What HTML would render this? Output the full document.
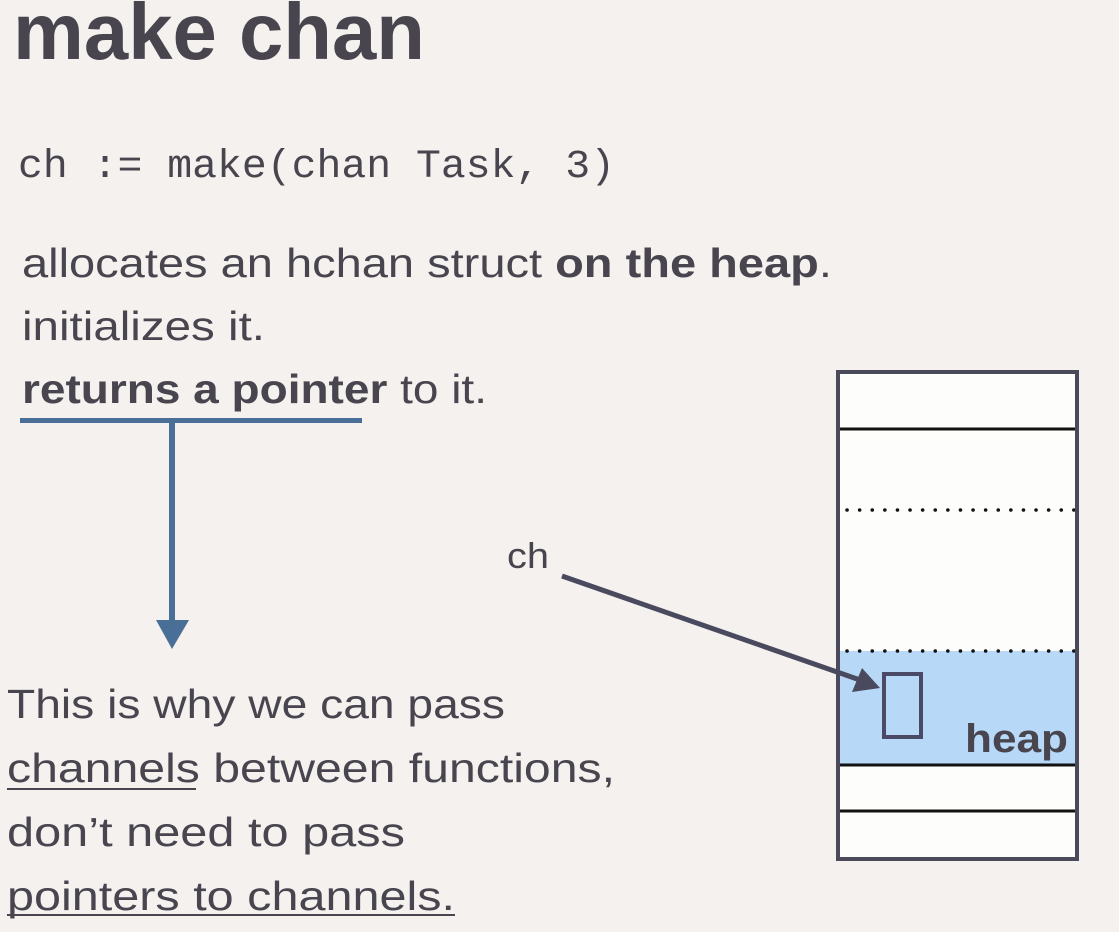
<!DOCTYPE html>
<html><head><style>html,body{margin:0;padding:0;background:#f4f1ef;}svg{display:block}</style></head>
<body>
<svg width="1119" height="932" viewBox="0 0 1119 932" xmlns="http://www.w3.org/2000/svg">
<rect width="1119" height="932" fill="#f4f1ef"/>
<g fill="#48454f" font-family="Liberation Sans, sans-serif">
<text x="13" y="59" font-size="80" font-weight="bold" textLength="412" lengthAdjust="spacingAndGlyphs">make chan</text>
<text x="18" y="177" font-size="40" font-family="Liberation Mono, monospace" textLength="597" lengthAdjust="spacingAndGlyphs">ch := make(chan Task, 3)</text>
<text x="22" y="277" font-size="41" textLength="810" lengthAdjust="spacingAndGlyphs">allocates an hchan struct <tspan font-weight="bold">on the heap</tspan>.</text>
<text x="22" y="340" font-size="41" textLength="243" lengthAdjust="spacingAndGlyphs">initializes it.</text>
<text x="22" y="403" font-size="41" textLength="465" lengthAdjust="spacingAndGlyphs"><tspan font-weight="bold">returns a pointer</tspan> to it.</text>
<text x="7" y="718" font-size="41" textLength="498" lengthAdjust="spacingAndGlyphs">This is why we can pass</text>
<text x="7" y="782" font-size="41" textLength="608" lengthAdjust="spacingAndGlyphs">channels between functions,</text>
<text x="7" y="846" font-size="41" textLength="398" lengthAdjust="spacingAndGlyphs">don’t need to pass</text>
<text x="7" y="910" font-size="41" textLength="448" lengthAdjust="spacingAndGlyphs">pointers to channels.</text>
<text x="507" y="568" font-size="36" textLength="42" lengthAdjust="spacingAndGlyphs">ch</text>
</g>
<rect x="7" y="788" width="189" height="2" fill="#48454f"/>
<rect x="7" y="914" width="448" height="2" fill="#48454f"/>
<rect x="20" y="418" width="342" height="5" fill="#4a6f96"/>
<rect x="169" y="420" width="6" height="202" fill="#4a6f96"/>
<polygon points="156,620 189,620 172,649" fill="#4a6f96"/>
<rect x="838" y="372" width="239" height="487" fill="#fdfdfc"/>
<rect x="838" y="651" width="239" height="114" fill="#b8d8f8"/>
<line x1="838" y1="429" x2="1077" y2="429" stroke="#111" stroke-width="3"/>
<line x1="838" y1="765" x2="1077" y2="765" stroke="#111" stroke-width="3"/>
<line x1="838" y1="811" x2="1077" y2="811" stroke="#111" stroke-width="3"/>
<line x1="847" y1="510" x2="1077" y2="510" stroke="#111" stroke-width="3.5" stroke-linecap="round" stroke-dasharray="0.1 12.5"/>
<line x1="847" y1="651" x2="1077" y2="651" stroke="#111" stroke-width="3.5" stroke-linecap="round" stroke-dasharray="0.1 12.5"/>
<rect x="838" y="372" width="239" height="487" fill="none" stroke="#4a4a5a" stroke-width="4"/>
<rect x="884" y="674" width="37" height="63" fill="none" stroke="#4a4a66" stroke-width="4"/>
<text x="965" y="752" font-family="Liberation Sans, sans-serif" font-weight="bold" font-size="40" fill="#48454f" textLength="103" lengthAdjust="spacingAndGlyphs">heap</text>
<line x1="562" y1="576" x2="860" y2="680" stroke="#4a4a5e" stroke-width="5"/>
<polygon points="880,688 852,692 862,668" fill="#4a4a5e"/>
</svg>
</body></html>
